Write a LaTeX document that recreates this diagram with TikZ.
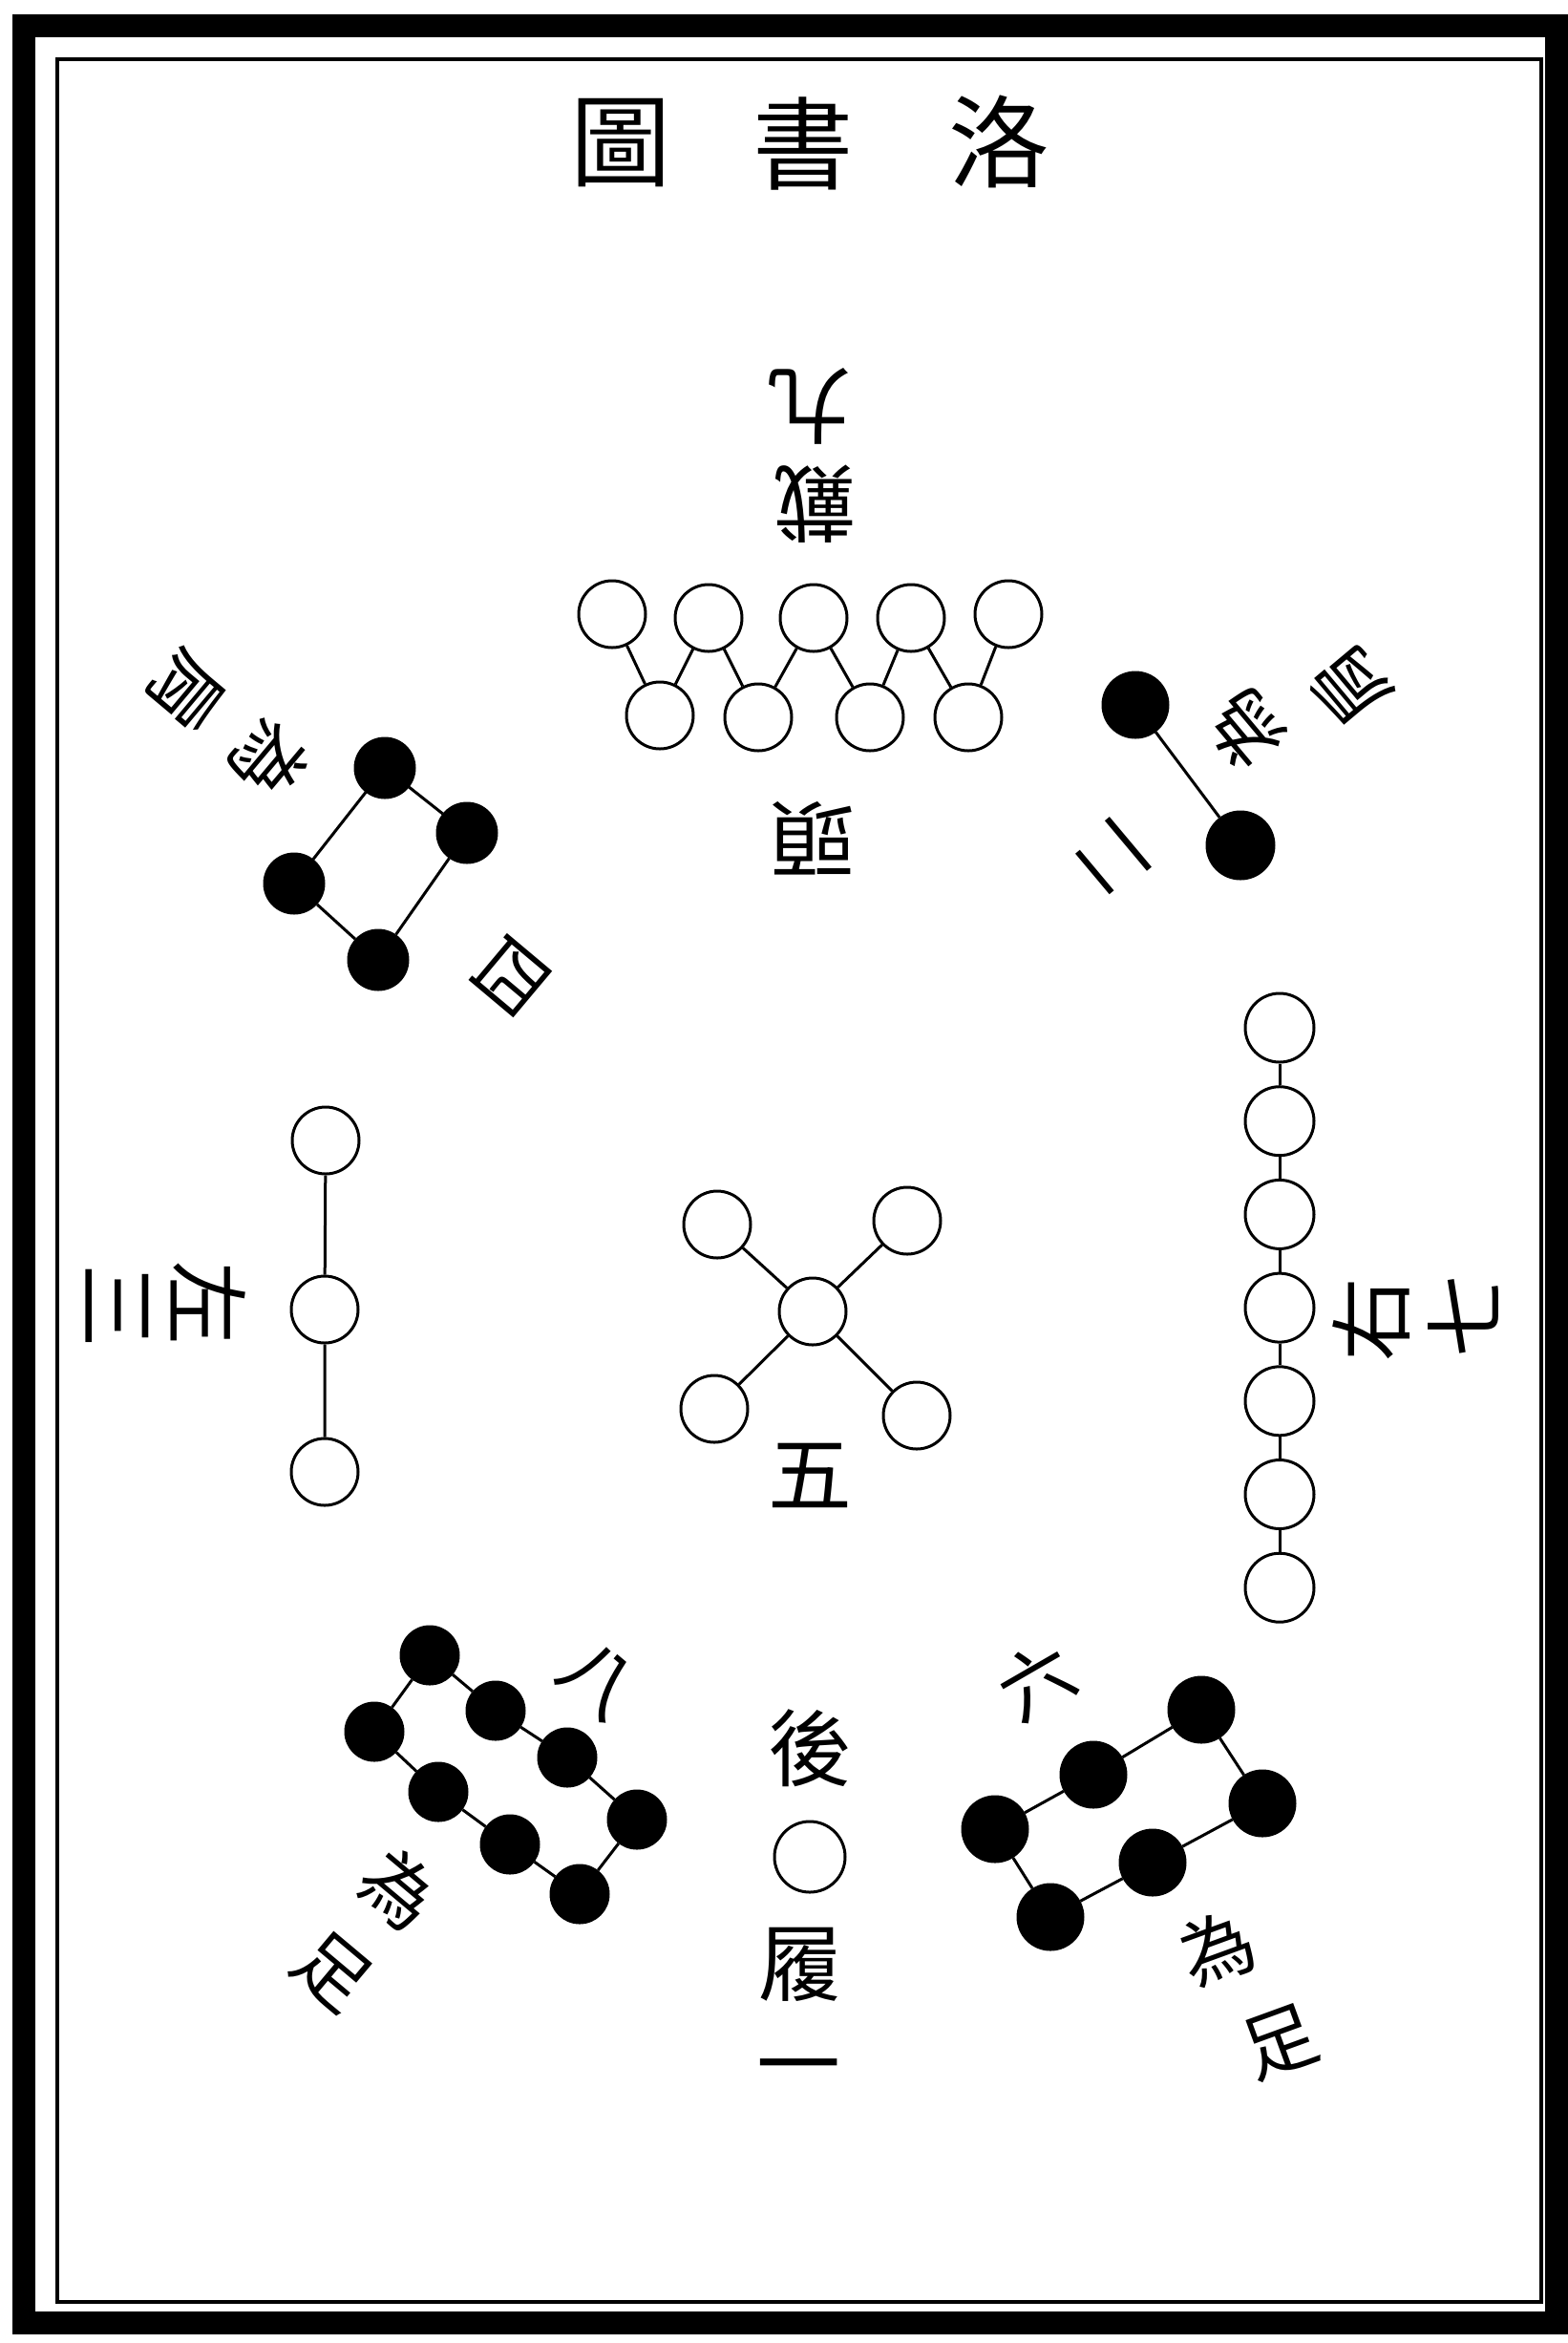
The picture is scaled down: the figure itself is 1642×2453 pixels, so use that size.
\documentclass[tikz,border=0pt]{standalone}
\usepackage{fontspec}
\newfontfamily\cjk{Noto Sans CJK TC}
\usetikzlibrary{positioning}
\tikzset{
  wdot/.style={circle, draw, line width=0.3mm, fill=white, minimum size=7mm, inner sep=0pt},
  bdot/.style={wdot, fill=black},
  link/.style={line width=0.3mm},
  lbl/.style={inner sep=0pt, font=\cjk\fontsize{25}{25}\selectfont},
  slbl/.style={inner sep=0pt, font=\cjk\fontsize{22}{22}\selectfont},
  ttl/.style={inner sep=0pt, font=\cjk\fontsize{30}{30}\selectfont}
}

\begin{document}
\begin{tikzpicture}[x=0.1mm, y=-0.1mm]
  \useasboundingbox (0,0) rectangle (1642,2453);
  \draw[line width=2.4mm] (25,27) rectangle (1630,2432);
  \draw[line width=0.4mm] (60,62) rectangle (1614,2410);

  \node[ttl] (tt1) at (650,150) {圖};
  \node[ttl] (tt2) at (841,150) {書};
  \node[ttl] (tt3) at (1046,148) {洛};

  % nine
  \node[lbl, rotate=180] (k9) at (848,425) {九};
  \node[lbl, rotate=180] (kdai) at (853,528) {戴};
  \node[wdot] (t1) at (641,643) {};
  \node[wdot] (t2) at (742,647) {};
  \node[wdot] (t3) at (852,647) {};
  \node[wdot] (t4) at (954,647) {};
  \node[wdot] (t5) at (1056,643) {};
  \node[wdot] (b1) at (691,749) {};
  \node[wdot] (b2) at (794,751) {};
  \node[wdot] (b3) at (911,751) {};
  \node[wdot] (b4) at (1014,751) {};
  \draw[link] (t1) -- (b1) -- (t2) -- (b2) -- (t3) -- (b3) -- (t4) -- (b4) -- (t5);
  \node[lbl, rotate=180] (ktou) at (852,878) {頭};

  % two
  \node[bdot, minimum size=6.8mm] (d1) at (1189,738) {};
  \node[bdot, minimum size=7mm] (d2) at (1299,885) {};
  \draw[link] (d1) -- (d2);
  \node[slbl, rotate=130] (k2) at (1165,898) {二};
  \node[slbl, rotate=130] (kwei2) at (1304,764) {為};
  \node[slbl, rotate=130] (kjian2) at (1414,718) {肩};

  % four
  \node[bdot, minimum size=6.2mm] (q1) at (403,804) {};
  \node[bdot, minimum size=6.2mm] (q2) at (489,872) {};
  \node[bdot, minimum size=6.2mm] (q3) at (396,1005) {};
  \node[bdot, minimum size=6.2mm] (q4) at (308,925) {};
  \draw[link] (q1) -- (q2) -- (q3) -- (q4) -- (q1);
  \node[slbl, rotate=-130] (kjian4) at (195,724) {肩};
  \node[slbl, rotate=-130] (kwei4) at (282,796) {為};
  \node[slbl, rotate=-130] (k4) at (535,1022) {四};

  % three
  \node[wdot] (l1) at (341,1194) {};
  \node[wdot] (l2) at (340,1371) {};
  \node[wdot] (l3) at (340,1541) {};
  \draw[link] (l1) -- (l2) -- (l3);
  \node[lbl, rotate=-90] (kzuo) at (218,1364) {左};
  \node[lbl, rotate=-90] (k3) at (123,1367) {三};

  % five
  \node[wdot] (c0) at (851,1373) {};
  \node[wdot] (c1) at (751,1282) {};
  \node[wdot] (c2) at (950,1278) {};
  \node[wdot] (c3) at (748,1475) {};
  \node[wdot] (c4) at (960,1482) {};
  \draw[link] (c0) -- (c1);
  \draw[link] (c0) -- (c2);
  \draw[link] (c0) -- (c3);
  \draw[link] (c0) -- (c4);
  \node[lbl] (k5) at (848,1545) {五};

  % seven
  \foreach \i in {1,...,7}
    \node[wdot, minimum size=7.2mm] (s\i) at (1340,{1076+97.7*(\i-1)}) {};
  \foreach \i [count=\j from 2] in {1,...,6}
    \draw[link] (s\i) -- (s\j);
  \node[lbl, rotate=90] (kyou) at (1436,1382) {右};
  \node[lbl, rotate=90] (k7) at (1532,1378) {七};

  % one
  \node[lbl] (khou) at (848,1830) {後};
  \node[wdot, minimum size=7.4mm] (o1) at (848,1944) {};
  \node[lbl] (klv) at (838,2057) {履};
  \node[lbl] (k1) at (836,2175) {一};

  % eight
  \node[bdot, minimum size=6mm] (e1) at (450,1733) {};
  \node[bdot, minimum size=6mm] (e2) at (519,1791) {};
  \node[bdot, minimum size=6mm] (e3) at (594,1840) {};
  \node[bdot, minimum size=6mm] (e4) at (667,1905) {};
  \node[bdot, minimum size=6mm] (e5) at (607,1983) {};
  \node[bdot, minimum size=6mm] (e6) at (534,1931) {};
  \node[bdot, minimum size=6mm] (e7) at (459,1876) {};
  \node[bdot, minimum size=6mm] (e8) at (392,1813) {};
  \draw[link] (e1) -- (e2) -- (e3) -- (e4) -- (e5) -- (e6) -- (e7) -- (e8) -- (e1);
  \node[slbl, rotate=-40] (k8) at (626,1759) {八};
  \node[slbl, rotate=-40] (kwei8) at (418,1978) {為};
  \node[slbl, rotate=-40] (kzu8) at (348,2064) {足};

  % six
  \node[bdot, minimum size=6.8mm] (x1) at (1258,1790) {};
  \node[bdot, minimum size=6.8mm] (x2) at (1145,1858) {};
  \node[bdot, minimum size=6.8mm] (x3) at (1042,1915) {};
  \node[bdot, minimum size=6.8mm] (x4) at (1100,2007) {};
  \node[bdot, minimum size=6.8mm] (x5) at (1207,1950) {};
  \node[bdot, minimum size=6.8mm] (x6) at (1322,1888) {};
  \draw[link] (x1) -- (x2) -- (x3) -- (x4) -- (x5) -- (x6) -- (x1);
  \node[slbl, rotate=30] (k6) at (1085,1760) {六};
  \node[slbl, rotate=20] (kwei6) at (1275,2040) {為};
  \node[slbl, rotate=20] (kzu6) at (1340,2138) {足};
\end{tikzpicture}
\end{document}
